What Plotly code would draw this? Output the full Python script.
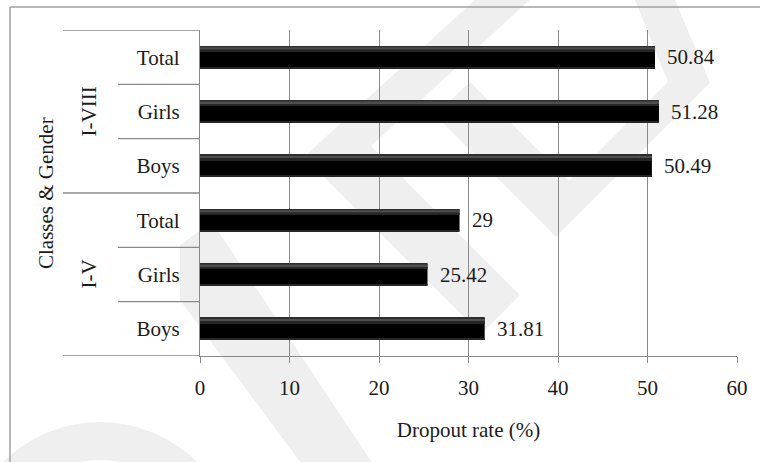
import plotly.graph_objects as go

# ---- data -------------------------------------------------------------
groups = ["I-V", "I-V", "I-V", "I-VIII", "I-VIII", "I-VIII"]
genders = ["Boys", "Girls", "Total", "Boys", "Girls", "Total"]
dropout = [31.81, 25.42, 29, 50.49, 51.28, 50.84]
value_labels = ["31.81", "25.42", "29", "50.49", "51.28", "50.84"]
x_ticks = [0, 10, 20, 30, 40, 50, 60]
group_names = ["I-V", "I-VIII"]

keys = [f"{g} {s}" for g, s in zip(groups, genders)]

# ---- geometry helpers --------------------------------------------------
W, H = 760, 462
L, R, T, B = 200, 23, 30, 106
PW, PH = W - L - R, H - T - B

def px(x):
    return (x - L) / PW

def py(y):
    return (H - B - y) / PH

FONT = "Liberation Serif, Times New Roman, serif"
FS = 21
GRID = "#8a8a8a"
INK = "#1c1c1c"
WM = "#efefef"

fig = go.Figure()

# glossy black bars: solid body plus thin shading stripes near the edges
stripes = [
    (-0.20, 0.40, "#000000"),
    (0.182, 0.018, "#2e2e2e"),
    (0.135, 0.047, "#4e4e4e"),
    (0.105, 0.030, "#262626"),
    (-0.20, 0.016, "#262626"),
]
for off, wid, col in stripes:
    fig.add_trace(go.Bar(
        x=dropout, y=keys, orientation="h", base=0,
        offset=off, width=wid,
        marker=dict(color=col, line=dict(width=0)),
        hoverinfo="skip", showlegend=False,
    ))

# value labels next to the bar ends
for k, v, t in zip(keys, dropout, value_labels):
    fig.add_annotation(x=v, y=k, text=t, xanchor="left", xshift=10,
                       showarrow=False, font=dict(family=FONT, size=FS, color=INK))

# ---- watermark (faint) -------------------------------------------------
def poly(points):
    d = "M " + " L ".join(f"{px(a):.4f},{py(b):.4f}" for a, b in points) + " Z"
    return dict(type="path", path=d, xref="paper", yref="paper",
                fillcolor=WM, line=dict(width=0), layer="below")

shapes = [
    poly([(180, 300), (180, 245), (212, 222), (377, 470), (306, 470)]),
    poly([(480, -5), (304, 157), (481, 334), (520, 295), (371, 146), (535, -5)]),
    poly([(435, 115), (470, 82), (569, 181), (668, 82), (633, -5), (673, -5),
          (710, 83), (556, 237)]),
    dict(type="circle", xref="paper", yref="paper",
         x0=px(100 - 119), x1=px(100 + 119), y0=py(560 + 119), y1=py(560 - 119),
         line=dict(color=WM, width=38), layer="below"),
]

# ---- category group separators ----------------------------------------
for yv in [-0.5, 2.5, 5.5]:
    shapes.append(dict(type="line", xref="paper", yref="y", x0=px(63), x1=0,
                       y0=yv, y1=yv, line=dict(color=GRID, width=1.3)))
for yv in [0.5, 1.5, 3.5, 4.5]:
    shapes.append(dict(type="line", xref="paper", yref="y", x0=px(118), x1=0,
                       y0=yv, y1=yv, line=dict(color=GRID, width=1.3)))

# outer frame
shapes.append(dict(type="line", xref="paper", yref="paper", x0=px(10), x1=px(10),
                   y0=py(7), y1=py(470), line=dict(color="#a0a0a0", width=1.5)))
shapes.append(dict(type="line", xref="paper", yref="paper", x0=px(10), x1=px(770),
                   y0=py(7), y1=py(7), line=dict(color="#a0a0a0", width=1.5)))

# group labels and vertical axis title
for gname, yc in zip(group_names, [1, 4]):
    fig.add_annotation(x=px(88), y=yc, xref="paper", yref="y", text=gname,
                       textangle=-90, showarrow=False,
                       xanchor="center", yanchor="middle",
                       font=dict(family=FONT, size=FS, color=INK))
fig.add_annotation(x=px(46), y=0.5, xref="paper", yref="paper",
                   text="Classes &amp; Gender", textangle=-90, showarrow=False,
                   xanchor="center", yanchor="middle",
                   font=dict(family=FONT, size=FS, color=INK))

fig.update_layout(
    width=W, height=H, autosize=False,
    margin=dict(l=L, r=R, t=T, b=B),
    paper_bgcolor="white", plot_bgcolor="rgba(0,0,0,0)",
    barmode="overlay", showlegend=False,
    font=dict(family=FONT, size=FS, color=INK),
    shapes=shapes,
    xaxis=dict(
        range=[0, 60], tickvals=x_ticks, ticktext=[str(t) for t in x_ticks],
        showgrid=True, gridcolor=GRID, gridwidth=1.3,
        showline=True, linecolor=GRID, linewidth=1.3,
        ticks="outside", ticklen=6, tickcolor=GRID, tickwidth=1.3,
        zeroline=False, ticklabelstandoff=7,
        tickfont=dict(family=FONT, size=FS, color=INK),
        title=dict(text="Dropout rate (%)", standoff=22,
                   font=dict(family=FONT, size=FS, color=INK)),
    ),
    yaxis=dict(
        type="category", categoryorder="array", categoryarray=keys,
        tickvals=keys, ticktext=genders, range=[-0.5, 5.5],
        showgrid=False, showline=True, linecolor=GRID, linewidth=1.3,
        ticks="", zeroline=False, ticklabelstandoff=15,
        tickfont=dict(family=FONT, size=FS, color=INK),
    ),
)

fig.write_html("out.html")
